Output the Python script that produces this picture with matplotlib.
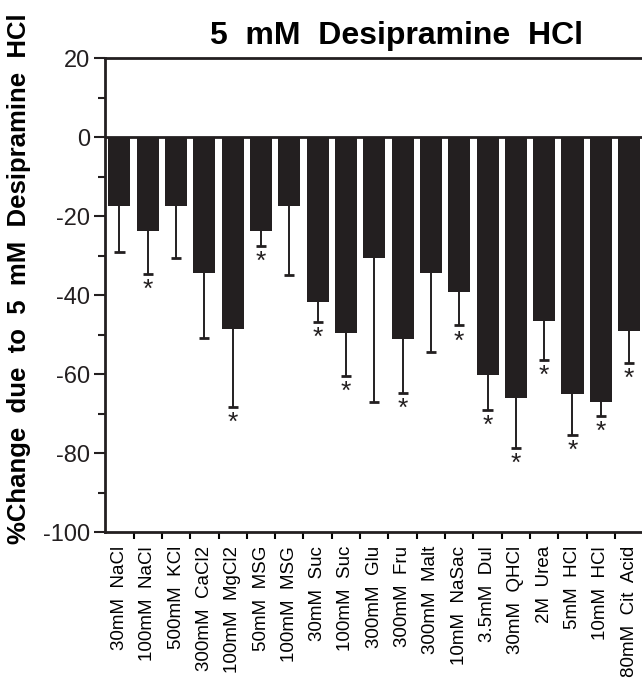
import numpy as np
import matplotlib.pyplot as plt
from matplotlib.ticker import FixedLocator, MultipleLocator

plt.rcParams['font.family'] = ['Liberation Sans', 'DejaVu Sans']

# stimuli on the x axis
labels = ['30mM  NaCl', '100mM  NaCl', '500mM  KCl', '300mM  CaCl2', '100mM  MgCl2',
          '50mM  MSG', '100mM  MSG', '30mM  Suc', '100mM  Suc', '300mM  Glu',
          '300mM  Fru', '300mM  Malt', '10mM  NaSac', '3.5mM  Dul', '30mM  QHCl',
          '2M  Urea', '5mM  HCl', '10mM  HCl', '80mM  Cit  Acid']
# mean % change and bottom of error bar
means = [-17.5, -23.8, -17.5, -34.3, -48.7, -23.8, -17.5, -41.7, -49.7, -30.7,
         -51.2, -34.5, -39.3, -60.3, -66.0, -46.5, -65.1, -67.1, -49.0]
err_end = [-29.2, -34.7, -30.7, -50.9, -68.4, -27.5, -34.8, -46.7, -60.5, -67.2,
           -64.8, -54.3, -47.7, -69.1, -78.7, -56.4, -75.4, -70.6, -57.3]
signif = [0, 1, 0, 0, 1, 1, 0, 1, 1, 0, 1, 0, 1, 1, 1, 1, 1, 1, 1]

ink = '#231f20'
x = np.arange(len(labels))

fig = plt.figure(figsize=(6.42, 6.83), dpi=100)
ax = fig.add_axes([0.164, 0.221, 0.838, 0.694])

ax.bar(x, means, width=0.78, color=ink, zorder=2)
# one-sided error bars, downward only
ax.vlines(x, err_end, means, color=ink, lw=1.4, zorder=1)
ax.hlines(err_end, x - 0.18, x + 0.18, color=ink, lw=2, zorder=1)
for xi, e, s in zip(x, err_end, signif):
    if s:
        ax.text(xi, e - 1.0, '*', ha='center', va='top', fontsize=19,
                color=ink)

ax.axhline(0, color=ink, lw=2, zorder=3)
ax.set_xlim(-0.5, len(labels) - 0.5)
ax.set_ylim(-100, 20)
ax.yaxis.set_minor_locator(MultipleLocator(10))
ax.set_yticks([20, 0, -20, -40, -60, -80, -100])
ax.set_yticklabels(['20', '0', '-20', '-40', '-60', '-80', '-100'], fontsize=17)
ax.set_xticks(x)
ax.set_xticklabels(labels, rotation=90, fontsize=13.5)
ax.xaxis.set_minor_locator(FixedLocator(x[:-1] + 0.5))
ax.tick_params(axis='x', which='major', length=0, pad=10)
ax.tick_params(axis='x', which='minor', length=5, width=1.5, direction='out')
ax.tick_params(axis='y', which='major', length=8, width=1.5, direction='out',
               pad=3, colors=ink)
ax.tick_params(axis='y', which='minor', length=5, width=1.5, direction='out',
               colors=ink)

for side in ['left', 'bottom', 'top']:
    ax.spines[side].set_linewidth(2)
    ax.spines[side].set_color(ink)
ax.spines['right'].set_visible(False)

fig.text(0.03, 1 - 279 / 683, '%Change  due  to  5  mM  Desipramine  HCl',
         rotation=90, ha='center', va='center', fontsize=18.5, fontweight='bold')
fig.text(397 / 642, 1 - 36 / 683, '5  mM  Desipramine  HCl', ha='center',
         va='center', fontsize=23, fontweight='bold')

plt.savefig('out.png', dpi=100)
